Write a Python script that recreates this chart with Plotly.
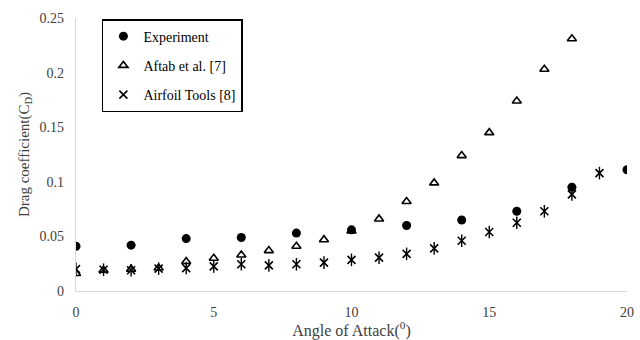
import plotly.graph_objects as go

exp_aoa = [0, 2, 4, 6, 8, 10, 12, 14, 16, 18, 20]
exp_cd = [0.041, 0.042, 0.048, 0.049, 0.053, 0.056, 0.060, 0.065, 0.073, 0.095, 0.111]

aftab_aoa = [0, 1, 2, 3, 4, 5, 6, 7, 8, 9, 10, 11, 12, 13, 14, 15, 16, 17, 18]
aftab_cd = [0.016, 0.019, 0.020, 0.021, 0.027, 0.030, 0.033, 0.037, 0.041, 0.047, 0.055,
            0.066, 0.082, 0.099, 0.124, 0.145, 0.174, 0.203, 0.231]

at_aoa = [0, 1, 2, 3, 4, 5, 6, 7, 8, 9, 10, 11, 12, 13, 14, 15, 16, 17, 18, 19]
at_cd = [0.020, 0.0195, 0.019, 0.0205, 0.021, 0.0225, 0.0245, 0.0235, 0.0245, 0.026, 0.0285,
         0.0305, 0.034, 0.039, 0.046, 0.054, 0.0625, 0.073, 0.0885, 0.108]

FONT = "Liberation Serif"
GRAY = "#404040"

fig = go.Figure()
fig.add_trace(go.Scatter(x=exp_aoa, y=exp_cd, mode="markers", name="Experiment",
                         legendgroup="a",
                         marker=dict(symbol="circle", size=9, color="black")))
fig.add_trace(go.Scatter(x=aftab_aoa, y=aftab_cd, mode="markers", name="Aftab et al. [7]",
                         legendgroup="b",
                         marker=dict(symbol="triangle-up-open", size=8, color="black",
                                     line=dict(width=1.6, color="black"))))
fig.add_trace(go.Scatter(x=at_aoa, y=at_cd, mode="markers", name="Airfoil Tools [8]",
                         legendgroup="c",
                         marker=dict(symbol="x-thin-open", size=8, color="black",
                                     line=dict(width=1.6, color="black"))))
fig.add_trace(go.Scatter(x=at_aoa, y=at_cd, mode="markers", name="Airfoil Tools [8]",
                         legendgroup="c", showlegend=False,
                         marker=dict(symbol="line-ns-open", size=9, color="black",
                                     line=dict(width=1.4, color="black"))))

fig.update_layout(
    width=640, height=340,
    margin=dict(l=76, r=13, t=18, b=49),
    paper_bgcolor="white", plot_bgcolor="white",
    font=dict(family=FONT, size=14, color=GRAY),
    showlegend=True,
    legend=dict(x=0.047, y=0.996, xanchor="left", yanchor="top",
                bordercolor="black", borderwidth=1.5, bgcolor="white",
                font=dict(family=FONT, size=14, color="black"),
                tracegroupgap=8, traceorder="grouped"),
    xaxis=dict(range=[0, 20], tickvals=[0, 5, 10, 15, 20], showgrid=False, zeroline=False,
               showline=True, linecolor="#d9d9d9", linewidth=1.3, automargin=False,
               ticks="outside", ticklen=8, tickcolor="rgba(0,0,0,0)",
               title=dict(text="Angle of Attack(<sup>0</sup>)", standoff=4,
                          font=dict(family=FONT, size=16, color=GRAY))),
    yaxis=dict(range=[0, 0.25], tickvals=[0, 0.05, 0.1, 0.15, 0.2, 0.25],
               ticktext=["0", "0.05", "0.1", "0.15", "0.2", "0.25"],
               showgrid=False, zeroline=False, automargin=False,
               showline=True, linecolor="#d9d9d9", linewidth=1.3,
               ticks="outside", ticklen=8, tickcolor="rgba(0,0,0,0)",
               title=dict(text="Drag coefficient(C<sub>D</sub>)", standoff=6,
                          font=dict(family=FONT, size=15, color=GRAY))),
)

fig.write_html("out.html")
